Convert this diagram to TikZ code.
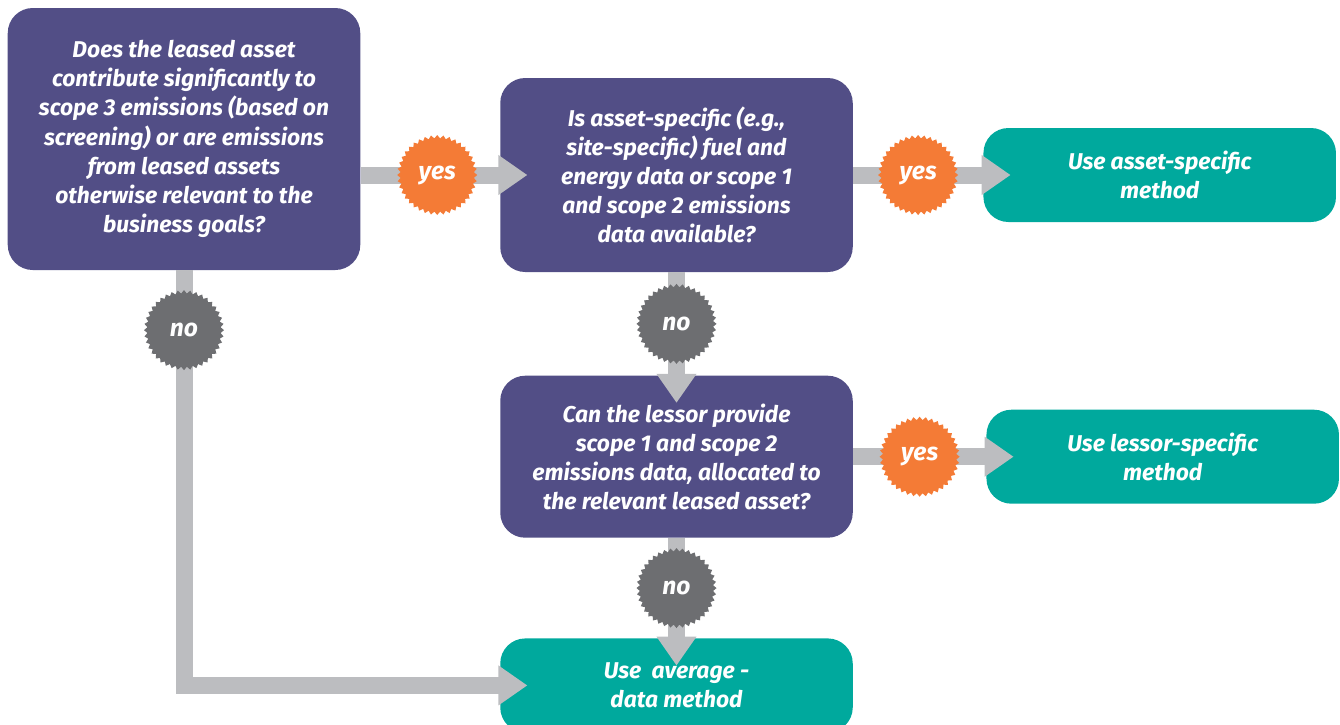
\documentclass[tikz,border=0pt]{standalone}
\usepackage{fontspec}
\setmainfont{Fira Sans}
\usepackage{xcolor}
\usepackage{tikz}
\usetikzlibrary{positioning}
\usetikzlibrary{shapes.geometric}
\usetikzlibrary{arrows.meta}
\definecolor{qpurple}{HTML}{524E86}
\definecolor{mteal}{HTML}{00A99D}
\definecolor{yorange}{HTML}{F47B36}
\definecolor{ngrey}{HTML}{6D6E71}
\definecolor{agrey}{HTML}{BCBDC0}
\tikzset{
  question/.style = {rectangle, rounded corners=0.5cm, fill=qpurple, text=white, align=center,
    minimum width=7.05cm, font=\bfseries\itshape\fontsize{13}{16.6}\selectfont},
  method/.style = {question, fill=mteal, minimum height=1.88cm},
  flow/.style = {agrey, line width=0.34cm, -{Triangle[width=0.76cm,length=0.58cm]}, shorten >=-0.55cm},
  yes/.style = {star, star points=40, star point ratio=1.09, minimum size=1.6cm, inner sep=0pt,
    fill=yorange, text=white, font=\bfseries\itshape\fontsize{14}{16}\selectfont},
  no/.style = {yes, fill=ngrey}
}

\begin{document}
\begin{tikzpicture}[node distance = 2cm]
        \useasboundingbox (0,0) rectangle (26.8,-14.48) ;
        \node (q1) [question, minimum height=5.24cm] at (3.68,-2.78) {Does the leased asset\\ contribute significantly to\\ scope 3 emissions (based on\\ screening) or are emissions\\ from leased assets\\ otherwise relevant to the\\ business goals?};
        \node (q2) [question, minimum height=3.88cm] at (13.53,-3.5) {Is asset-specific (e.g.,\\ site-specific) fuel and\\ energy data or scope 1\\ and scope 2 emissions\\ data available?};
        \node (r1) [method, right = 2.6cm of q2] {Use asset-specific\\ method};
        \node (q3) [question, minimum height=3.24cm, below = 2.06cm of q2] {Can the lessor provide\\ scope 1 and scope 2\\ emissions data, allocated to\\ the relevant leased asset?};
        \node (r2) [method, right = 2.66cm of q3] {Use lessor-specific\\ method};
        \node (r3) [method, below = 2.0cm of q3] {Use\ \ average -\\ data method};

        \draw [flow] (q1.east |- q2.west) -- node[yes, pos=.55] (y1) {yes} (q2.west) ;
        \draw [flow] (q2.east) -- node[yes] (y2) {yes} (q2.east -| r1.west) ;
        \draw [flow] (q3.east) -- node[yes] (y3) {yes} (q3.east -| r2.west) ;
        \draw [flow] (q2.south) -- node[no] (n2) {no} (q3.north) ;
        \draw [flow] (q3.south) -- node[no] (n3) {no} (r3.north) ;
        \draw [flow] (q1.south) |- node[no, pos=.072] (n1) {no} (r3.west) ;
    \end{tikzpicture}
\end{document}
